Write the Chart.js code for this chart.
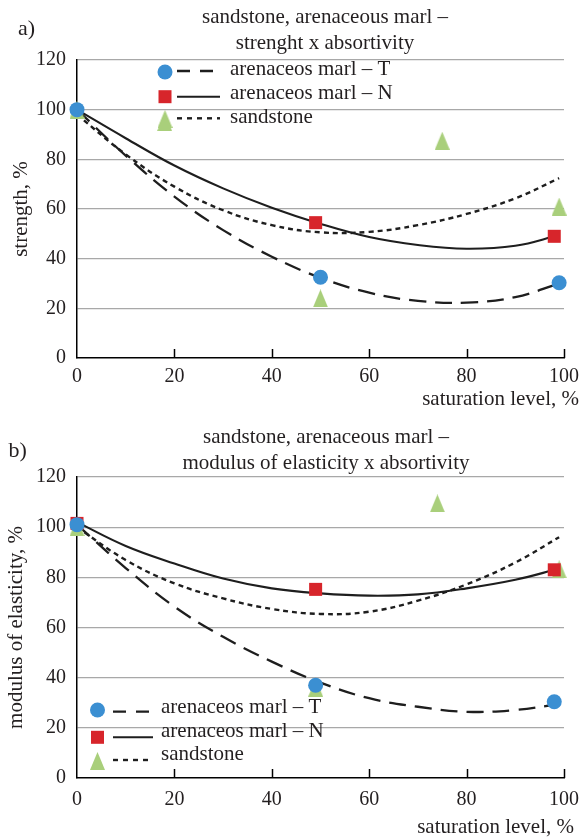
<!DOCTYPE html>
<html>
<head>
<meta charset="utf-8">
<script src="https://cdn.jsdelivr.net/npm/chart.js@4/dist/chart.umd.min.js"></script>
<style>
body { margin: 0; background: #fff; }
canvas { display: block; }
</style>
</head>
<body>
<canvas id="chartA" width="581" height="415"></canvas>
<canvas id="chartB" width="581" height="424"></canvas>
<script>
"use strict";
// axis ticks and names
const xTicks = [0, 20, 40, 60, 80, 100];
const yTicks = [0, 20, 40, 60, 80, 100, 120];
const seriesNames = ['arenaceos marl \u2013 T', 'arenaceos marl \u2013 N', 'sandstone'];

// a) strength x absortivity - measured points
const aMarlTX = [0, 50, 99];
const aMarlTY = [100, 32.5, 30.3];
const aMarlNX = [49, 98];
const aMarlNY = [54.5, 49];
const aSandX = [0, 18, 50, 75, 99];
const aSandY = [100, 95, 24, 87.5, 61];
// a) trend curves (read off the picture)
const aCurveX = [0, 10, 20, 30, 40, 50, 60, 70, 80, 90, 99];
const aTrendT = [100, 81.5, 65, 51.5, 40.8, 32.3, 26.3, 23, 22.3, 24.5, 30];
const aTrendN = [100, 88.5, 77.5, 68.3, 60.5, 54, 48.7, 45.5, 44, 45.2, 49.5];
const aTrendS = [98, 82, 69, 59.5, 53.5, 50.6, 50.8, 53.5, 58, 64.3, 72.4];

// b) modulus of elasticity x absortivity - measured points
const bMarlTX = [0, 49, 98];
const bMarlTY = [101, 37, 30.4];
const bMarlNX = [0, 49, 98];
const bMarlNY = [101.5, 75.2, 83];
const bSandX = [0, 49, 74, 99];
const bSandY = [100, 36, 109.5, 83.2];
// b) trend curves
const bCurveX = [0, 10, 20, 30, 40, 50, 60, 70, 80, 90, 99];
const bTrendT = [101, 83.7, 68.3, 56.3, 46.4, 38, 31.8, 28.4, 26.4, 27.1, 29.5];
const bTrendN = [102, 92.5, 85.5, 79.5, 75.6, 73.6, 72.7, 73.2, 75.6, 79, 83.5];
const bTrendS = [100, 86.9, 77.6, 71.6, 67.4, 65.4, 66.3, 70.7, 77.2, 85.9, 96];

const BLUE = '#3b8fd2';
const RED = '#d7252b';
const GREEN = '#a9cf7b';
const INK = '#231f20';
const FONT = '"Liberation Serif", "Times New Roman", serif';

function pts(xs, ys) {
    return xs.map((x, i) => ({ x: x, y: ys[i] }));
}

function triangleImage(w, h, color) {
    const c = document.createElement('canvas');
    c.width = w;
    c.height = h;
    const g = c.getContext('2d');
    g.fillStyle = color;
    g.beginPath();
    g.moveTo(w / 2, 0);
    g.lineTo(w, h);
    g.lineTo(0, h);
    g.closePath();
    g.fill();
    return c;
}
const triangle = triangleImage(15, 18, GREEN);

const lineStyles = [
    { dash: [17, 9], width: 2.3 },
    { dash: [], width: 2.1 },
    { dash: [5, 4], width: 2.4 }
];

// titles, axis titles, inward ticks and legend
const decorPlugin = {
    id: 'decor',
    afterDraw(chart, args, o) {
        const ctx = chart.ctx;
        const area = chart.chartArea;
        const xs = chart.scales.x;
        ctx.save();
        // inward tick marks on the x axis
        ctx.strokeStyle = '#000';
        ctx.lineWidth = 1.5;
        xs.ticks.forEach(t => {
            if (t.value === 0) return;
            const px = Math.round(xs.getPixelForValue(t.value)) + 0.5;
            ctx.beginPath();
            ctx.moveTo(px, area.bottom);
            ctx.lineTo(px, area.bottom - 9);
            ctx.stroke();
        });

        ctx.fillStyle = INK;
        ctx.font = '22px ' + FONT;
        ctx.textBaseline = 'alphabetic';
        ctx.textAlign = 'left';
        ctx.fillText(o.panel, o.panelX, o.panelY);

        ctx.font = '21px ' + FONT;
        ctx.textAlign = 'center';
        o.title.forEach((line, i) => ctx.fillText(line, o.titleX, o.titleY[i]));

        ctx.textAlign = 'right';
        ctx.fillText(o.xTitle, o.xTitleRight, o.xTitleY);

        ctx.save();
        ctx.translate(o.yTitleX, (area.top + area.bottom) / 2);
        ctx.rotate(-Math.PI / 2);
        ctx.textAlign = 'center';
        ctx.textBaseline = 'middle';
        ctx.fillText(o.yTitle, 0, 0);
        ctx.restore();

        // legend
        const L = o.legend;
        seriesNames.forEach((name, i) => {
            const my = L.markerY[i];
            ctx.fillStyle = [BLUE, RED, GREEN][i];
            if (i === 0) {
                ctx.beginPath();
                ctx.arc(L.markerX, my, 7.5, 0, Math.PI * 2);
                ctx.fill();
            } else if (i === 1) {
                ctx.fillRect(L.markerX - 6.5, my - 6.5, 13, 13);
            } else {
                ctx.drawImage(triangle, L.markerX - 7.5, my - 9);
            }
            ctx.strokeStyle = '#1e1e1e';
            ctx.lineWidth = lineStyles[i].width;
            ctx.setLineDash(lineStyles[i].dash.length ? (i === 0 ? [13, 10] : [5, 5]) : []);
            ctx.beginPath();
            ctx.moveTo(L.sampleX0, L.sampleY[i]);
            ctx.lineTo(L.sampleX1, L.sampleY[i]);
            ctx.stroke();
            ctx.setLineDash([]);
            ctx.fillStyle = INK;
            ctx.textAlign = 'left';
            ctx.textBaseline = 'alphabetic';
            ctx.fillText(name, L.textX, L.textY[i]);
        });
        ctx.restore();
    }
};

function buildChart(id, d, layout) {
    const ctx = document.getElementById(id).getContext('2d');
    const pointSet = (data, style, radius, color) => ({
        type: 'scatter',
        data: data,
        showLine: false,
        pointStyle: style,
        pointRadius: radius,
        pointHoverRadius: radius,
        pointBackgroundColor: color,
        pointBorderWidth: 0,
        borderWidth: 0,
        clip: false
    });
    const lineSet = (data, i) => ({
        type: 'scatter',
        data: data,
        showLine: true,
        pointRadius: 0,
        borderColor: '#1e1e1e',
        borderWidth: lineStyles[i].width,
        borderDash: lineStyles[i].dash,
        tension: 0.4,
        fill: false,
        clip: false
    });
    return new Chart(ctx, {
        type: 'scatter',
        data: {
            datasets: [
                pointSet(pts(d.tX, d.tY), 'circle', 7.5, BLUE),
                pointSet(pts(d.nX, d.nY), 'rect', 9.2, RED),
                pointSet(pts(d.sX, d.sY), triangle, 9, GREEN),
                lineSet(pts(d.curveX, d.trendT), 0),
                lineSet(pts(d.curveX, d.trendN), 1),
                lineSet(pts(d.curveX, d.trendS), 2)
            ]
        },
        options: {
            responsive: false,
            animation: false,
            events: [],
            layout: { padding: { top: layout.top, right: 17, left: 0, bottom: 0 } },
            plugins: {
                legend: { display: false },
                tooltip: { enabled: false },
                title: { display: false },
                decor: layout.decor
            },
            scales: {
                x: {
                    type: 'linear',
                    min: 0,
                    max: 100,
                    afterBuildTicks: s => { s.ticks = xTicks.map(v => ({ value: v })); },
                    afterFit: s => {
                        s.height = layout.xHeight;
                        s.paddingLeft = 0;
                        s.paddingRight = 0;
                    },
                    grid: { display: false, drawTicks: false },
                    border: { display: true, color: '#000', width: 1.5 },
                    ticks: { color: INK, padding: layout.xPad, font: { family: FONT, size: 20 } }
                },
                y: {
                    type: 'linear',
                    min: 0,
                    max: 120,
                    afterBuildTicks: s => { s.ticks = yTicks.map(v => ({ value: v })); },
                    afterFit: s => {
                        s.width = 77;
                        s.paddingTop = 0;
                        s.paddingBottom = 0;
                    },
                    grid: {
                        drawTicks: false,
                        color: c => (c.tick && c.tick.value === 0) ? 'rgba(0,0,0,0)' : '#a8a8a8',
                        lineWidth: 1.3
                    },
                    border: { display: true, color: '#000', width: 1.5 },
                    ticks: { color: INK, padding: 11, font: { family: FONT, size: 20 } }
                }
            }
        },
        plugins: [decorPlugin]
    });
}

buildChart('chartA', {
    tX: aMarlTX, tY: aMarlTY, nX: aMarlNX, nY: aMarlNY, sX: aSandX, sY: aSandY,
    curveX: aCurveX, trendT: aTrendT, trendN: aTrendN, trendS: aTrendS
}, {
    top: 60, xHeight: 57, xPad: 7,
    decor: {
        panel: 'a)', panelX: 18, panelY: 35,
        title: ['sandstone, arenaceous marl \u2013', 'strenght x absortivity'],
        titleX: 325, titleY: [23, 48.5],
        xTitle: 'saturation level, %', xTitleRight: 579, xTitleY: 405,
        yTitle: 'strength, %', yTitleX: 21,
        legend: {
            markerX: 165, markerY: [72, 96.7, 119],
            sampleX0: 177, sampleX1: 220, sampleY: [71, 96.7, 118.3],
            textX: 230, textY: [75, 99, 123]
        }
    }
});

buildChart('chartB', {
    tX: bMarlTX, tY: bMarlTY, nX: bMarlNX, nY: bMarlNY, sX: bSandX, sY: bSandY,
    curveX: bCurveX, trendT: bTrendT, trendN: bTrendN, trendS: bTrendS
}, {
    top: 62, xHeight: 61, xPad: 10,
    decor: {
        panel: 'b)', panelX: 8.5, panelY: 41.7,
        title: ['sandstone, arenaceous marl \u2013', 'modulus of elasticity x absortivity'],
        titleX: 326, titleY: [28.3, 54.3],
        xTitle: 'saturation level, %', xTitleRight: 574, xTitleY: 418.3,
        yTitle: 'modulus of elasticity, %', yTitleX: 16,
        legend: {
            markerX: 97.5, markerY: [295, 322.3, 346],
            sampleX0: 113, sampleX1: 153, sampleY: [296.7, 322.3, 345],
            textX: 161, textY: [298.3, 321.7, 345]
        }
    }
});
</script>
</body>
</html>
